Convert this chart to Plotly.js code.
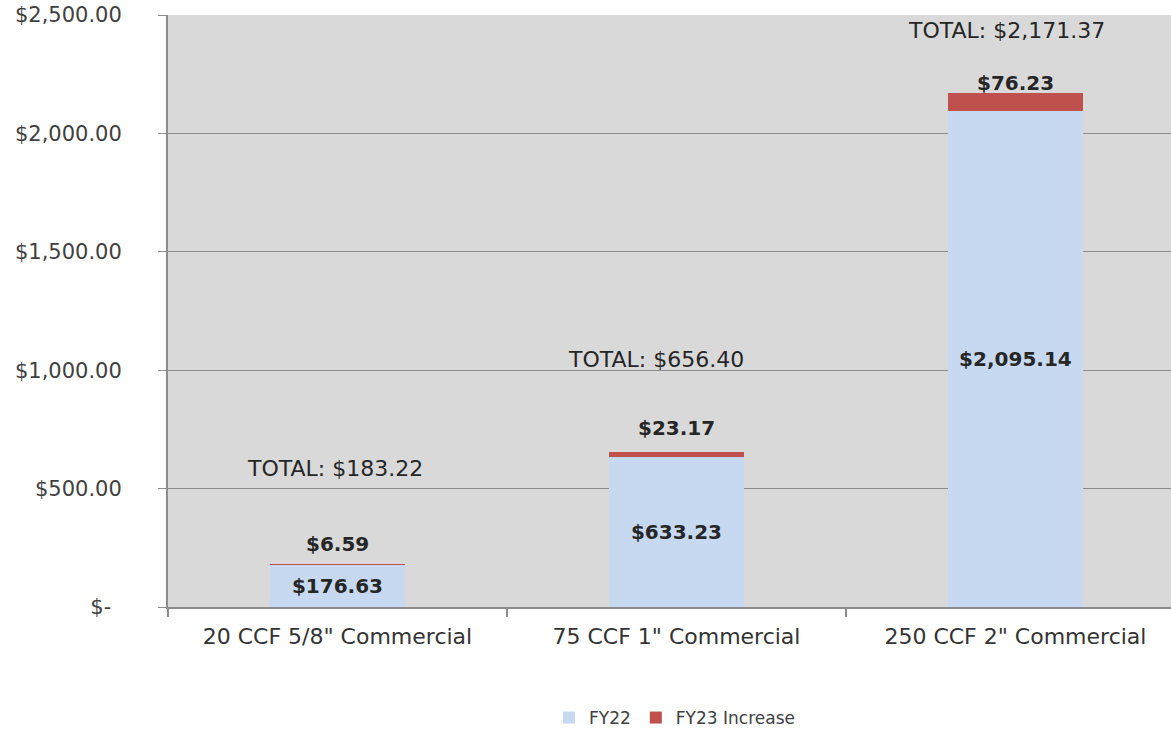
<!DOCTYPE html>
<html>
<head>
<meta charset="utf-8">
<script src="https://cdn.plot.ly/plotly-3.0.1.min.js"></script>
<style>
  html, body { margin: 0; padding: 0; background: #ffffff; }
  #chart { width: 1171px; height: 730px; }
</style>
</head>
<body>
<div id="chart"></div>
<script>
// ---- data ----
const categories = ['20 CCF 5/8" Commercial', '75 CCF 1" Commercial', '250 CCF 2" Commercial'];
const fy22 = [176.63, 633.23, 2095.14];
const fy23Increase = [6.59, 23.17, 76.23];
const totals = [183.22, 656.40, 2171.37];
const yTickVals = [0, 500, 1000, 1500, 2000, 2500];
const yTickText = ['$-\u2002', '$500.00', '$1,000.00', '$1,500.00', '$2,000.00', '$2,500.00'];

// label placement (pixel offsets, styling only)
const incShift = [20, 24, 10];
const totShiftY = [95, 92, 62];
const totShiftX = [-2, -20, -9];

const money = v => '$' + v.toLocaleString('en-US', {minimumFractionDigits: 2, maximumFractionDigits: 2});

const FONT = 'DejaVu Sans, Verdana, sans-serif';

const traces = [
  {
    type: 'bar', name: 'FY22', x: categories, y: fy22,
    marker: {color: '#c6d9f1', line: {width: 0}},
    text: fy22.map(money), textposition: 'inside', insidetextanchor: 'middle',
    textfont: {family: FONT, size: 20, color: '#262626', weight: 'bold'},
    hoverinfo: 'x+y'
  },
  {
    type: 'bar', name: 'FY23 Increase', x: categories, y: fy23Increase,
    marker: {color: '#c0504d', line: {width: 0}},
    textposition: 'none', hoverinfo: 'x+y'
  }
];

const annotations = [];
categories.forEach((c, i) => {
  annotations.push({
    x: c, y: totals[i], xref: 'x', yref: 'y', text: '<b>' + money(fy23Increase[i]) + '</b>',
    showarrow: false, yshift: incShift[i], yanchor: 'middle',
    font: {family: FONT, size: 20, color: '#262626'}
  });
  annotations.push({
    x: c, y: totals[i], xref: 'x', yref: 'y', text: 'TOTAL: ' + money(totals[i]),
    showarrow: false, yshift: totShiftY[i], xshift: totShiftX[i], yanchor: 'middle',
    font: {family: FONT, size: 22, color: '#262626'}
  });
});

const layout = {
  width: 1171, height: 730,
  margin: {l: 168, r: 0, t: 15, b: 123, pad: 0, autoexpand: false},
  paper_bgcolor: '#ffffff', plot_bgcolor: '#d9d9d9',
  barmode: 'stack', bargap: 0.6,
  showlegend: true,
  legend: {
    orientation: 'h', x: 0.505, xanchor: 'center', y: -0.1875, yanchor: 'middle',
    font: {family: FONT, size: 17, color: '#404040'}, traceorder: 'normal'
  },
  xaxis: {
    type: 'category', range: [-0.5, 2.459],
    showline: true, linecolor: '#8c8c8c', linewidth: 2,
    showgrid: false, zeroline: false,
    ticks: 'outside', tickson: 'boundaries', ticklen: 8, tickcolor: '#8c8c8c', tickwidth: 2,
    tickfont: {family: FONT, size: 22, color: '#333333'},
    ticklabelstandoff: 9
  },
  yaxis: {
    range: [0, 2500], tickvals: yTickVals, ticktext: yTickText,
    showline: true, linecolor: '#8c8c8c', linewidth: 2,
    showgrid: true, gridcolor: '#8c8c8c', gridwidth: 1, zeroline: false,
    ticks: 'outside', ticklen: 8, tickcolor: '#8c8c8c', tickwidth: 1,
    tickfont: {family: FONT, size: 21, color: '#404040'},
    ticklabelstandoff: 32
  },
  annotations: annotations,
  font: {family: FONT}
};

Plotly.newPlot('chart', traces, layout, {displayModeBar: false, staticPlot: true});
</script>
</body>
</html>
